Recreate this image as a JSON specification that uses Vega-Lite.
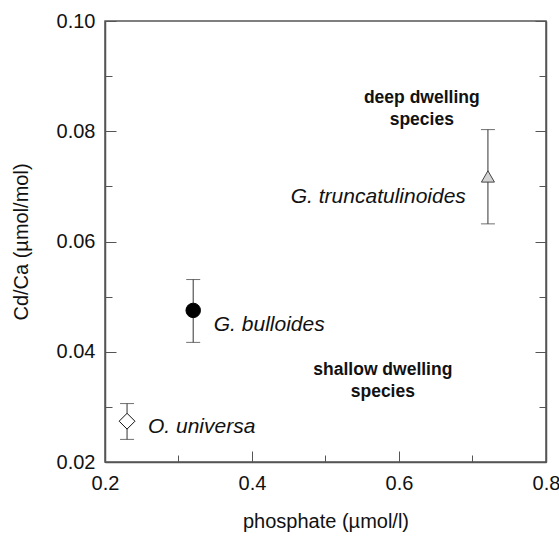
{
  "$schema": "https://vega.github.io/schema/vega-lite/v6.json",
  "autosize": {"type": "none"},
  "padding": {"left": 105, "top": 21, "right": 13, "bottom": 75},
  "width": 441,
  "height": 441,
  "background": "white",
  "config": {
    "view": {"stroke": "#555", "strokeWidth": 1.5},
    "font": "Liberation Sans",
    "axis": {"grid": false, "labelFlush": false, "labelOverlap": false, "labelFont": "Liberation Sans", "titleFont": "Liberation Sans", "labelFontSize": 20, "titleFontSize": 20, "labelColor": "#111", "titleColor": "#111", "titleFontWeight": "normal", "domainColor": "#555", "domainWidth": 1.5, "tickColor": "#555", "tickWidth": 1}
  },
  "datasets": {
    "pts": [
      {"species": "O. universa", "phosphate": 0.23, "cdca": 0.0274, "lo": 0.0241, "hi": 0.0306},
      {"species": "G. bulloides", "phosphate": 0.32, "cdca": 0.0475, "lo": 0.0417, "hi": 0.0531},
      {"species": "G. truncatulinoides", "phosphate": 0.721, "cdca": 0.0718, "lo": 0.0632, "hi": 0.0803}
    ],
    "leftlabels": [
      {"label": "O. universa", "lx": 0.2585, "ly": 0.0263},
      {"label": "G. bulloides", "lx": 0.348, "ly": 0.0448}
    ],
    "rightlabels": [
      {"label": "G. truncatulinoides", "lx": 0.691, "ly": 0.068}
    ],
    "notes": [
      {"note": "deep dwelling\nspecies", "nx": 0.631, "ny": 0.0861},
      {"note": "shallow dwelling\nspecies", "nx": 0.578, "ny": 0.0367}
    ]
  },
  "resolve": {"axis": {"x": "independent", "y": "independent"}},
  "layer": [
    {
      "data": {"name": "pts"},
      "mark": {"type": "rule", "color": "#333", "strokeWidth": 1},
      "encoding": {
        "x": {"field": "phosphate", "type": "quantitative", "scale": {"domain": [0.2, 0.8], "nice": false, "zero": false},
              "axis": {"orient": "bottom", "values": [0.2, 0.4, 0.6, 0.8], "format": ".1f", "ticks": false, "labelPadding": 11, "title": "phosphate (µmol/l)", "titlePadding": 18}},
        "y": {"field": "lo", "type": "quantitative", "scale": {"domain": [0.02, 0.1], "nice": false, "zero": false},
              "axis": {"orient": "left", "values": [0.02, 0.04, 0.06, 0.08, 0.1], "format": ".2f", "ticks": false, "labelPadding": 10, "title": "Cd/Ca (µmol/mol)", "titlePadding": 25}},
        "y2": {"field": "hi"}
      }
    },
    {
      "data": {"name": "pts"},
      "mark": {"type": "tick", "orient": "horizontal", "color": "#333", "size": 14, "thickness": 1},
      "encoding": {
        "x": {"field": "phosphate", "type": "quantitative",
              "axis": {"orient": "bottom", "values": [0.2, 0.4, 0.6, 0.8], "labels": false, "domain": false, "tickSize": -11, "title": null}},
        "y": {"field": "hi", "type": "quantitative",
              "axis": {"orient": "left", "values": [0.02, 0.04, 0.06, 0.08, 0.1], "labels": false, "domain": false, "tickSize": -11, "title": null}}
      }
    },
    {
      "data": {"name": "pts"},
      "mark": {"type": "tick", "orient": "horizontal", "color": "#333", "size": 14, "thickness": 1},
      "encoding": {
        "x": {"field": "phosphate", "type": "quantitative",
              "axis": {"orient": "bottom", "values": [0.3, 0.5, 0.7], "labels": false, "domain": false, "tickSize": -7, "title": null}},
        "y": {"field": "lo", "type": "quantitative",
              "axis": {"orient": "left", "values": [0.03, 0.05, 0.07, 0.09], "labels": false, "domain": false, "tickSize": -7, "title": null}}
      }
    },
    {
      "data": {"name": "pts"},
      "mark": {"type": "point", "filled": false, "opacity": 1, "strokeWidth": 1},
      "encoding": {
        "x": {"field": "phosphate", "type": "quantitative", "axis": null},
        "y": {"field": "cdca", "type": "quantitative",
              "axis": {"orient": "right", "values": [0.02, 0.04, 0.06, 0.08, 0.1], "labels": false, "domain": true, "tickSize": -11, "title": null}},
        "shape": {"field": "species", "type": "nominal", "legend": null,
                  "scale": {"domain": ["O. universa", "G. bulloides", "G. truncatulinoides"], "range": ["diamond", "circle", "triangle-up"]}},
        "fill": {"field": "species", "type": "nominal", "legend": null,
                 "scale": {"domain": ["O. universa", "G. bulloides", "G. truncatulinoides"], "range": ["#ffffff", "#000000", "#d4d4d4"]}},
        "stroke": {"field": "species", "type": "nominal", "legend": null,
                   "scale": {"domain": ["O. universa", "G. bulloides", "G. truncatulinoides"], "range": ["#111111", "#000000", "#444444"]}},
        "size": {"field": "species", "type": "nominal", "legend": null,
                 "scale": {"domain": ["O. universa", "G. bulloides", "G. truncatulinoides"], "range": [250, 170, 210]}}
      }
    },
    {
      "data": {"name": "leftlabels"},
      "mark": {"type": "text", "align": "left", "baseline": "middle", "fontStyle": "italic", "fontSize": 21, "font": "Liberation Sans", "color": "#111"},
      "encoding": {
        "x": {"field": "lx", "type": "quantitative", "axis": null},
        "y": {"field": "ly", "type": "quantitative",
              "axis": {"orient": "right", "values": [0.03, 0.05, 0.07, 0.09], "labels": false, "domain": false, "tickSize": -7, "title": null}},
        "text": {"field": "label"}
      }
    },
    {
      "data": {"name": "rightlabels"},
      "mark": {"type": "text", "align": "right", "baseline": "middle", "fontStyle": "italic", "fontSize": 21, "font": "Liberation Sans", "color": "#111"},
      "encoding": {
        "x": {"field": "lx", "type": "quantitative", "axis": null},
        "y": {"field": "ly", "type": "quantitative", "axis": null},
        "text": {"field": "label"}
      }
    },
    {
      "data": {"name": "notes"},
      "mark": {"type": "text", "align": "center", "baseline": "middle", "fontWeight": "bold", "fontSize": 17.5, "lineHeight": 22, "lineBreak": "\n", "font": "Liberation Sans", "color": "#111"},
      "encoding": {
        "x": {"field": "nx", "type": "quantitative", "axis": null},
        "y": {"field": "ny", "type": "quantitative", "axis": null},
        "text": {"field": "note"}
      }
    }
  ]
}
